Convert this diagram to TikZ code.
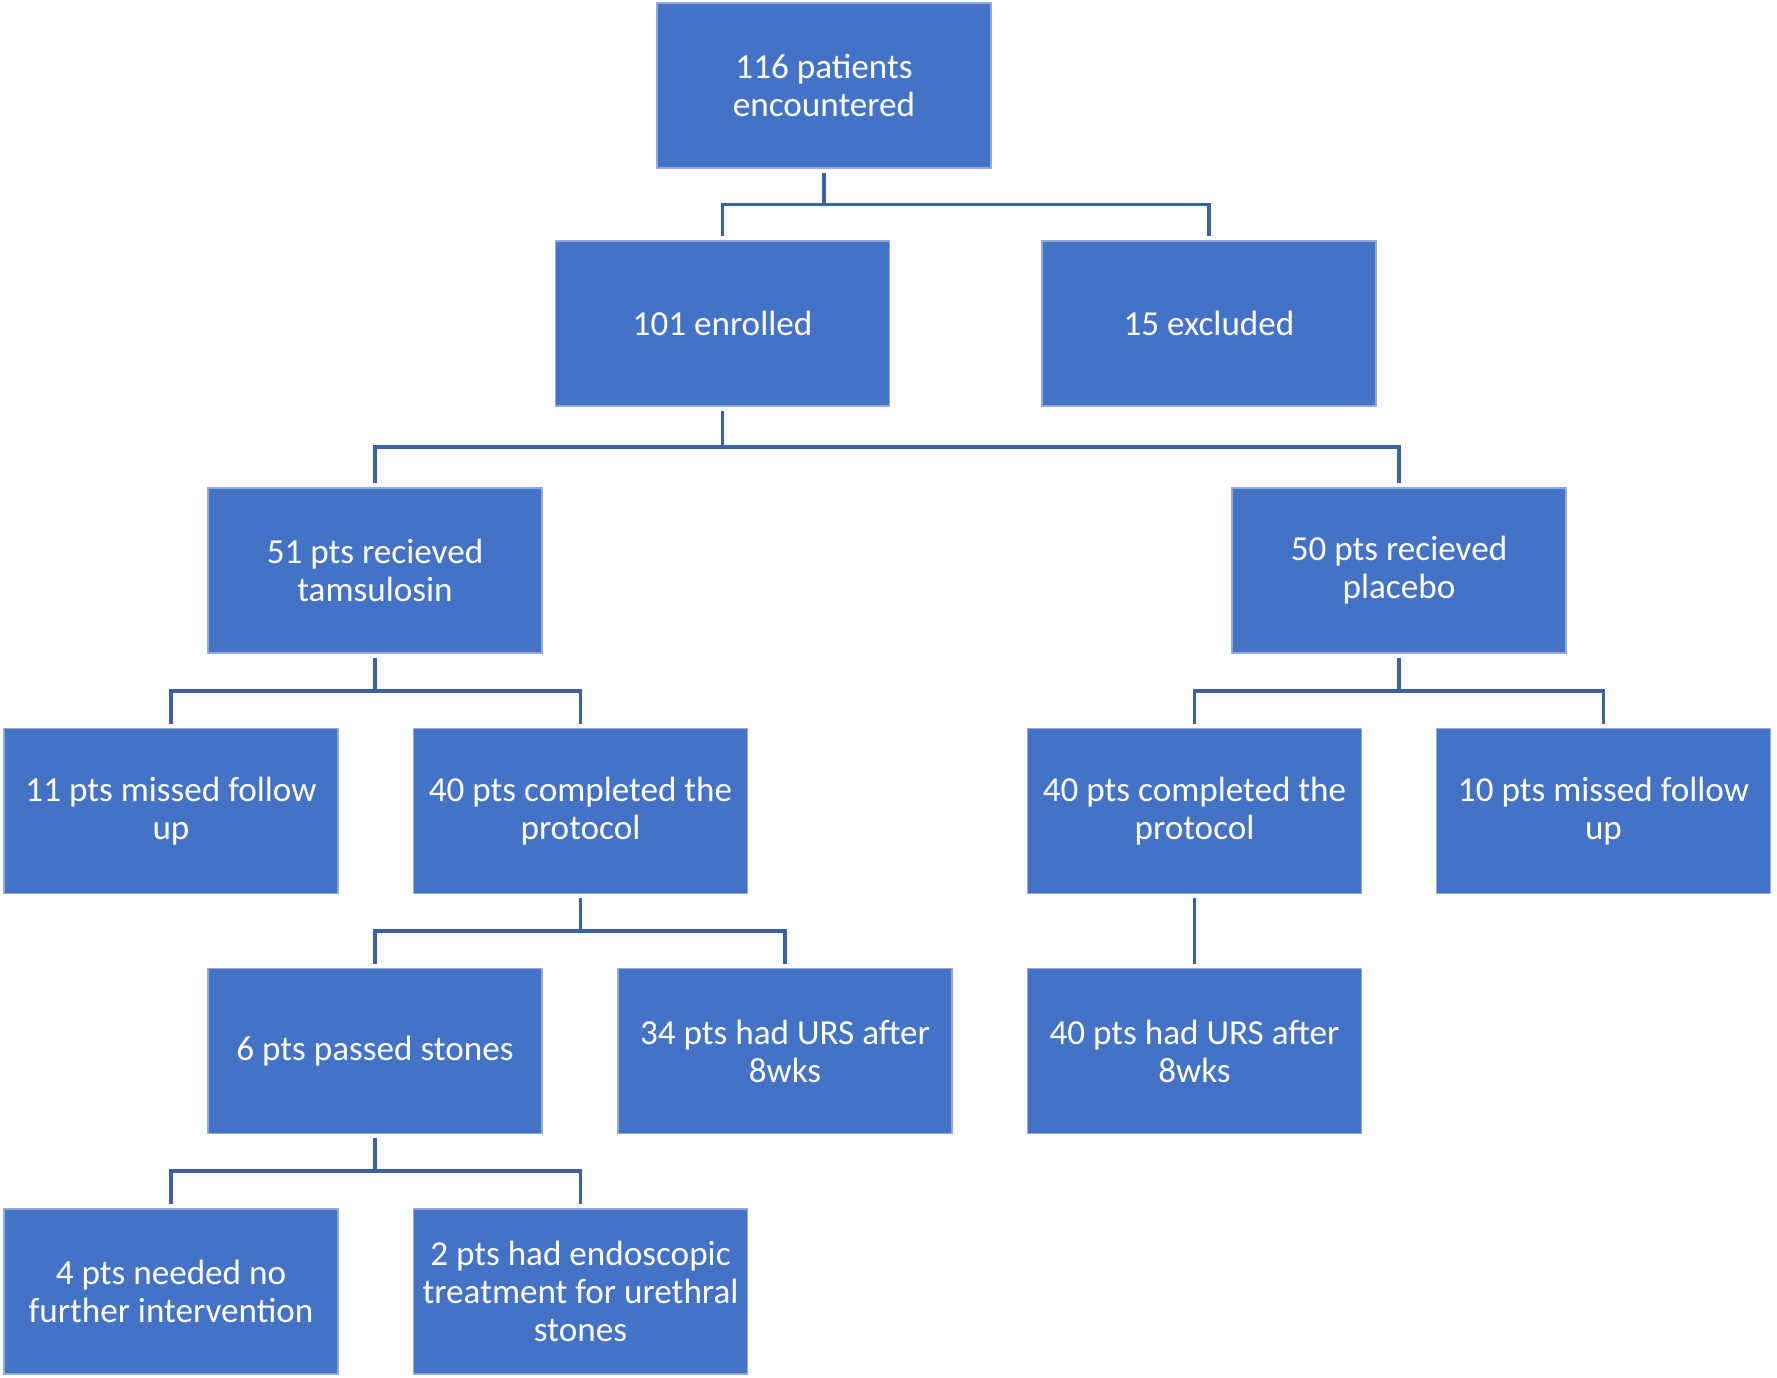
\documentclass[tikz,border=0pt]{standalone}
\usepackage{fontspec}
\setmainfont{Carlito}
\usepackage{tikz}
\usetikzlibrary{calc, positioning}
\definecolor{boxFill}{RGB}{68, 114, 196}
\definecolor{boxEdge}{RGB}{143, 170, 220}
\definecolor{linkColor}{RGB}{59, 96, 170}

\begin{document}
\begin{tikzpicture}[
    box/.style = {draw=boxEdge, line width=0.3pt, fill=boxFill,
        minimum width=3.34cm, minimum height=1.65cm, inner sep=0mm,
        align=center, text=white, font=\fontsize{10pt}{10.8pt}\selectfont},
    link/.style = {draw=linkColor, line width=1.1pt, line join=miter,
        shorten <=0.04cm, shorten >=0.04cm}
  ]
  \useasboundingbox (0,0) rectangle (17.77,-13.78);

  % level 1 and 2
  \node[box] (enc) at (8.24,-0.855) {116 patients\\encountered};
  \node[box] (enr) at (7.225,-3.235) {101 enrolled};
  \node[box] (exc) at (12.09,-3.235) {15 excluded};

  % the two arms
  \node[box] (tam) at (3.75,-5.705) {51 pts recieved\\tamsulosin};
  \node[box] (pla) at (13.99,-5.705) {50 pts recieved\\placebo};

  \node[box] (miss11) at (1.71,-8.11) {11 pts missed follow\\up};
  \node[box] (compA)  at (5.805,-8.11) {40 pts completed the\\protocol};
  \node[box] (compB)  at (11.945,-8.11) {40 pts completed the\\protocol};
  \node[box] (miss10) at (16.035,-8.11) {10 pts missed follow\\up};

  \node[box] (passed) at (3.75,-10.51) {6 pts passed stones};
  \node[box] (ursA)   at (7.85,-10.51) {34 pts had URS after\\8wks};
  \node[box] (ursB)   at (11.945,-10.51) {40 pts had URS after\\8wks};

  \node[box] (none4) at (1.71,-12.915) {4 pts needed no\\further intervention};
  \node[box] (endo2) at (5.805,-12.915) {2 pts had endoscopic\\treatment for urethral\\stones};

  % connectors
  \foreach \p/\c in {enc/enr, enc/exc, enr/tam, enr/pla, tam/miss11, tam/compA,
      pla/compB, pla/miss10, compA/passed, compA/ursA, compB/ursB,
      passed/none4, passed/endo2}
    \draw[link] (\p.south) |- ($(\p.south)!.5!(\c.north)$) -| (\c.north);
\end{tikzpicture}
\end{document}
